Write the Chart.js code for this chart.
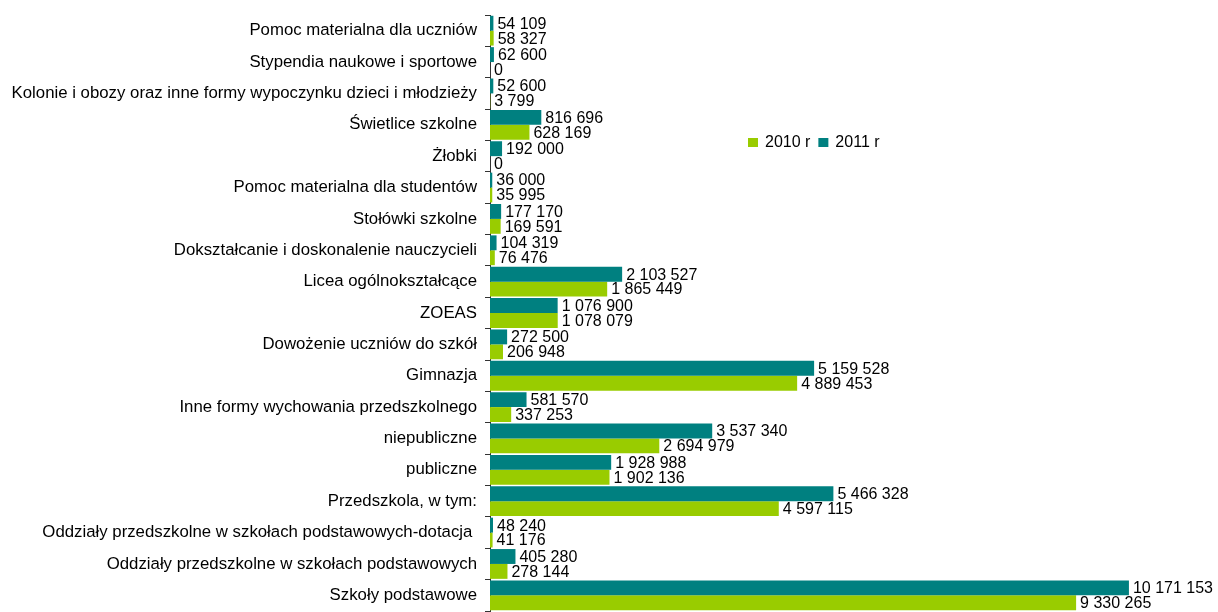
<!DOCTYPE html>
<html>
<head>
<meta charset="utf-8">
<script src="https://cdn.jsdelivr.net/npm/chart.js@4"></script>
<style>
  html, body { margin: 0; padding: 0; background: #fff; overflow: hidden; }
  #wrap { position: relative; width: 1218px; height: 612px; }
</style>
</head>
<body>
<div id="wrap"><canvas id="c"></canvas></div>
<script>
const categories = [
  "Pomoc materialna dla uczniów",
  "Stypendia naukowe i sportowe",
  "Kolonie i obozy oraz inne formy wypoczynku dzieci i młodzieży",
  "Świetlice szkolne",
  "Żłobki",
  "Pomoc materialna dla studentów",
  "Stołówki szkolne",
  "Dokształcanie i doskonalenie nauczycieli",
  "Licea ogólnokształcące",
  "ZOEAS",
  "Dowożenie uczniów do szkół",
  "Gimnazja",
  "Inne formy wychowania przedszkolnego",
  "niepubliczne",
  "publiczne",
  "Przedszkola, w tym:",
  "Oddziały przedszkolne w szkołach podstawowych-dotacja ",
  "Oddziały przedszkolne w szkołach podstawowych",
  "Szkoły podstawowe"
];
const values2011 = [54109, 62600, 52600, 816696, 192000, 36000, 177170, 104319, 2103527, 1076900, 272500, 5159528, 581570, 3537340, 1928988, 5466328, 48240, 405280, 10171153];
const values2010 = [58327, 0, 3799, 628169, 0, 35995, 169591, 76476, 1865449, 1078079, 206948, 4889453, 337253, 2694979, 1902136, 4597115, 41176, 278144, 9330265];
const seriesNames = ["2011 r", "2010 r"];
const legendOrder = ["2010 r", "2011 r"];

const FONT = "'Liberation Sans', Arial, sans-serif";

function fmt(v) {
  return String(v).replace(/\B(?=(\d{3})+(?!\d))/g, " ");
}

const valueLabels = {
  id: 'valueLabels',
  afterDatasetsDraw(chart) {
    const ctx = chart.ctx;
    ctx.save();
    ctx.font = "16px " + FONT;
    ctx.fillStyle = "#000";
    ctx.textAlign = "left";
    ctx.textBaseline = "middle";
    chart.data.datasets.forEach((ds, di) => {
      const meta = chart.getDatasetMeta(di);
      meta.data.forEach((bar, i) => {
        ctx.fillText(fmt(ds.data[i]), bar.x + 4, bar.y + 1);
      });
    });
    ctx.restore();
  }
};

const customLegend = {
  id: 'customLegend',
  afterDraw(chart) {
    const ctx = chart.ctx;
    ctx.save();
    ctx.font = "16px " + FONT;
    ctx.textBaseline = "middle";
    ctx.textAlign = "left";
    let x = 748;
    const y = 142.5;
    legendOrder.forEach(name => {
      const ds = chart.data.datasets.find(d => d.label === name);
      ctx.fillStyle = ds.backgroundColor;
      ctx.fillRect(x, y - 4.5, 10, 9);
      x += 17;
      ctx.fillStyle = "#000";
      ctx.fillText(name, x, y);
      x += ctx.measureText(name).width + 8;
    });
    ctx.restore();
  }
};

new Chart(document.getElementById('c'), {
  type: 'bar',
  data: {
    labels: categories,
    datasets: [
      { label: seriesNames[0], data: values2011, backgroundColor: '#008080', borderWidth: 0 },
      { label: seriesNames[1], data: values2010, backgroundColor: '#99CC00', borderWidth: 0 }
    ]
  },
  options: {
    indexAxis: 'y',
    responsive: true,
    maintainAspectRatio: false,
    animation: false,
    datasets: { bar: { categoryPercentage: 0.95, barPercentage: 1.0 } },
    layout: { padding: { left: 0, right: 37, top: 15, bottom: 1 } },
    plugins: { legend: { display: false }, tooltip: { enabled: false } },
    scales: {
      x: { display: false, min: 0, max: 11000000 },
      y: {
        afterFit(scale) { scale.width = 490; scale.paddingTop = 0; scale.paddingBottom = 0; },
        grid: { display: true, drawOnChartArea: false, drawTicks: true, tickLength: 5, color: '#333', offset: true },
        border: { display: true, color: '#333', width: 1 },
        ticks: { color: '#000', padding: 8, font: { family: FONT, size: 16.8 }, autoSkip: false }
      }
    }
  },
  plugins: [valueLabels, customLegend]
});
</script>
</body>
</html>
